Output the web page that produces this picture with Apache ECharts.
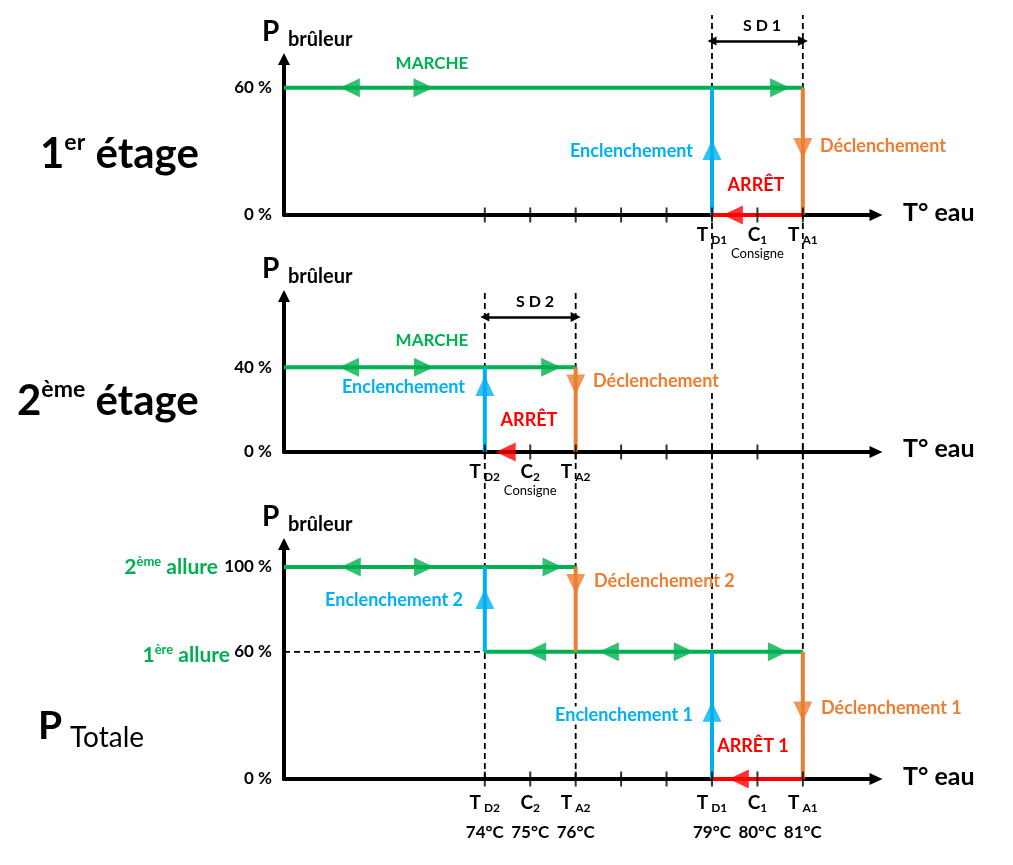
<!DOCTYPE html>
<html><head><meta charset="utf-8">
<script src="https://cdn.jsdelivr.net/npm/echarts@6/dist/echarts.min.js"></script>
<style>html,body{margin:0;padding:0;background:#fff}#c{width:1013px;height:865px}</style>
</head><body><div id="c"></div>
<script>
// ---------------- DATA ----------------
const X_MIN = 69.58, X_MAX = 82.61;            // T° eau axis range (°C)
const tickTemps = [74, 75, 76, 77, 78, 79, 80, 81];
const thresholdTemps = [74, 75, 76, 79, 80, 81];
const thresholdMain  = ['T', 'C', 'T', 'T', 'C', 'T'];
const thresholdSub   = ['D2', '2', 'A2', 'D1', '1', 'A1'];
const tempLabels     = ['74°C', '75°C', '76°C', '79°C', '80°C', '81°C'];
const stage1Temps = [79, 80, 81];
const stage2Temps = [74, 75, 76];
const p1Levels = [0, 60];
const p2Levels = [0, 40];
const p3Levels = [0, 60, 100];

// Panel 1 : 1er étage
const s1Marche = [[X_MIN, 60], [81, 60]];
const s1Encl = [[79, 0], [79, 60]];
const s1Decl = [[81, 60], [81, 0]];
const s1Arret = [[81, 0], [79, 0]];
const s1ArrMarche = [[71.03, 60, 'left'], [72.65, 60, 'right'], [80.50, 60, 'right']];
const s1ArrEncl = [[79, 30.7, 'up']];
const s1ArrDecl = [[81, 31.6, 'down']];
const s1ArrArret = [[79.46, 0, 'left']];
const s1SD = [[79, 82.1], [81, 82.1]];

// Panel 2 : 2ème étage
const s2Marche = [[X_MIN, 40], [76, 40]];
const s2Encl = [[74, 0], [74, 40]];
const s2Decl = [[76, 40], [76, 0]];
const s2ArrMarche = [[71.01, 40, 'left'], [72.66, 40, 'right'], [75.46, 40, 'right']];
const s2ArrEncl = [[74, 31.1, 'up']];
const s2ArrDecl = [[76, 31.8, 'down']];
const s2ArrArret = [[74.46, 0, 'left']];
const s2SD = [[74, 63.7], [76, 63.7]];

// Panel 3 : P Totale
const s3Allure2 = [[X_MIN, 100], [76, 100]];
const s3Allure1 = [[74, 60], [81, 60]];
const s3Ref60 = [[X_MIN, 60], [74, 60]];
const s3Encl2 = [[74, 60], [74, 100]];
const s3Decl2 = [[76, 100], [76, 60]];
const s3Encl1 = [[79, 0], [79, 60]];
const s3Decl1 = [[81, 60], [81, 0]];
const s3Arret1 = [[81, 0], [79, 0]];
const s3ArrAllure2 = [[71.05, 100, 'left'], [72.66, 100, 'right'], [75.49, 100, 'right']];
const s3ArrAllure1 = [[75.13, 60, 'left'], [76.73, 60, 'left'], [78.38, 60, 'right'], [80.45, 60, 'right']];
const s3ArrEncl2 = [[74, 84.9, 'up']];
const s3ArrDecl2 = [[76, 92.0, 'down']];
const s3ArrEncl1 = [[79, 31.7, 'up']];
const s3ArrDecl1 = [[81, 31.8, 'down']];
const s3ArrArret1 = [[79.59, 0, 'left']];

// guide (dashed) lines in overlay scale
const guideTempsLong = [79, 81];
const guideTempsShort = [74, 76];
const guideTopLong = 360.4, guideTopShort = 230.7;

// ---------------- STYLE ----------------
const FF = 'Lato, "Open Sans", sans-serif';
const GREEN = '#00B050', BLUE = '#00B0F0', ORANGE = '#ED7D31', RED = '#FF0000';
const ROT = {up: 0, down: 180, left: 90, right: -90};
const Y_MAX = [73.58, 73.58, 110.85, 360.4];
const grids = [
  {left: 284, width: 592, top: 59, height: 156},
  {left: 284, width: 592, top: 296, height: 156},
  {left: 284, width: 592, top: 544, height: 235},
  {left: 284, width: 592, top: 15, height: 764}
];

const richX = {
  t: {fontSize: 19, fontWeight: 'bold', lineHeight: 22, fontFamily: FF, color: '#000'},
  sT: {fontSize: 12, fontWeight: 'bold', lineHeight: 14, verticalAlign: 'bottom', padding: [0, 0, 0, 3], fontFamily: FF, color: '#000'},
  sC: {fontSize: 12, fontWeight: 'bold', lineHeight: 14, verticalAlign: 'bottom', fontFamily: FF, color: '#000'},
  c: {fontSize: 13, lineHeight: 16, fontFamily: FF, color: '#000'},
  d: {fontSize: 17, fontWeight: 'bold', lineHeight: 38, fontFamily: FF, color: '#000'}
};
function thr(v) {
  const i = thresholdTemps.indexOf(v);
  const m = thresholdMain[i];
  return {i, head: '{t|' + m + '}{' + (m === 'C' ? 'sC' : 'sT') + '|' + thresholdSub[i] + '}'};
}
const fmtStage = v => { const r = thr(v); return thresholdMain[r.i] === 'C' ? r.head + '\n{c|Consigne}' : r.head; };
const fmtTotal = v => { const r = thr(v); return r.head + '\n{d|' + tempLabels[r.i] + '}'; };

function xAxisCfg(i, vals, fmt, margin) {
  const show = i < 3;
  return {
    gridIndex: i, type: 'value', min: X_MIN, max: X_MAX, show: show,
    axisLine: {show: show, onZero: false, lineStyle: {color: '#000', width: 4},
      symbol: ['none', 'triangle'], symbolSize: [12, 13]},
    axisTick: {show: false}, splitLine: {show: false},
    axisLabel: show ? {show: true, customValues: vals, formatter: fmt, rich: richX, margin: margin, color: '#000'} : {show: false}
  };
}
function yAxisCfg(i, levels) {
  const show = i < 3;
  return {
    gridIndex: i, type: 'value', min: 0, max: Y_MAX[i], show: show,
    axisLine: {show: show, onZero: false, lineStyle: {color: '#000', width: 4},
      symbol: ['none', 'triangle'], symbolSize: [12, 12]},
    axisTick: {show: false}, splitLine: {show: false},
    axisLabel: show ? {show: true, customValues: levels, formatter: v => v + ' %',
      color: '#000', fontWeight: 'bold', fontSize: 17, fontFamily: FF, margin: 12} : {show: false}
  };
}

function seg(g, data, color, z, dashed, width) {
  return {type: 'line', xAxisIndex: g, yAxisIndex: g, data: data, symbol: 'none', showSymbol: false,
    clip: false, z: z || 3, silent: true,
    lineStyle: {color: color, width: width || 4, type: dashed ? [6, 4] : 'solid', cap: 'butt'}};
}
function arrows(g, pts, color) {
  return {type: 'scatter', xAxisIndex: g, yAxisIndex: g, symbol: 'triangle', symbolSize: [19, 20],
    clip: false, z: 5, silent: true, itemStyle: {color: color},
    data: pts.map(p => ({value: [p[0], p[1]], symbolRotate: ROT[p[2]]}))};
}
function ticks(g) {
  return {type: 'scatter', xAxisIndex: g, yAxisIndex: g, symbol: 'rect', symbolSize: [2, 15],
    clip: false, z: 6, silent: true, itemStyle: {color: '#000'}, data: tickTemps.map(t => [t, 0])};
}
function sdArrow(g, coords) {
  return {type: 'lines', coordinateSystem: 'cartesian2d', xAxisIndex: g, yAxisIndex: g, clip: false, z: 4,
    silent: true, symbol: ['triangle', 'triangle'], symbolSize: [9, 10],
    lineStyle: {color: '#000', width: 2.5, opacity: 1},
    data: [{coords: coords}]};
}

const series = [];
// guides
guideTempsLong.forEach(t => series.push(seg(3, [[t, 0], [t, guideTopLong]], '#000', 1, true, 1.8)));
guideTempsShort.forEach(t => series.push(seg(3, [[t, 0], [t, guideTopShort]], '#000', 1, true, 1.8)));
// panel 1
series.push(seg(0, s1Marche, GREEN), seg(0, s1Encl, BLUE), seg(0, s1Decl, ORANGE), seg(0, s1Arret, RED));
series.push(arrows(0, s1ArrMarche, GREEN), arrows(0, s1ArrEncl, BLUE), arrows(0, s1ArrDecl, ORANGE), arrows(0, s1ArrArret, RED));
series.push(ticks(0), sdArrow(0, s1SD));
// panel 2
series.push(seg(1, s2Marche, GREEN), seg(1, s2Encl, BLUE), seg(1, s2Decl, ORANGE));
series.push(arrows(1, s2ArrMarche, GREEN), arrows(1, s2ArrEncl, BLUE), arrows(1, s2ArrDecl, ORANGE), arrows(1, s2ArrArret, RED));
series.push(ticks(1), sdArrow(1, s2SD));
// panel 3
series.push(seg(2, s3Ref60, '#000', 1, true, 1.8));
series.push(seg(2, s3Allure2, GREEN), seg(2, s3Allure1, GREEN), seg(2, s3Encl2, BLUE), seg(2, s3Decl2, ORANGE),
  seg(2, s3Encl1, BLUE), seg(2, s3Decl1, ORANGE), seg(2, s3Arret1, RED));
series.push(arrows(2, s3ArrAllure2, GREEN), arrows(2, s3ArrAllure1, GREEN), arrows(2, s3ArrEncl2, BLUE),
  arrows(2, s3ArrDecl2, ORANGE), arrows(2, s3ArrEncl1, BLUE), arrows(2, s3ArrDecl1, ORANGE), arrows(2, s3ArrArret1, RED));
series.push(ticks(2));

// ---------------- TEXT ----------------
const K = 0.36;
function T(x, base, text, size, color, align, weight, bg) {
  const st = {text: text, fontSize: size, fontWeight: weight || 'bold', fontFamily: FF, fill: color || '#000',
    textAlign: align || 'left', textVerticalAlign: 'middle'};
  if (bg) { st.backgroundColor = '#fff'; st.padding = [0, 2]; }
  return {type: 'text', x: x, y: base - K * size, z: 100, silent: true, style: st};
}
function R(x, base, text, size, supSize, supLH, color, align, lh) {
  return {type: 'text', x: x, y: base - K * size, z: 100, silent: true,
    style: {text: text, fontSize: size, fontWeight: 'bold', fontFamily: FF, fill: color, textAlign: align, textVerticalAlign: 'middle',
      rich: {
        n: {fontSize: size, fontWeight: 'bold', fontFamily: FF, fill: color, lineHeight: lh},
        s: {fontSize: supSize, fontWeight: 'bold', fontFamily: FF, fill: color, lineHeight: supLH, verticalAlign: 'top'}
      }}};
}
const graphics = [
  // stage titles
  R(40, 170, '{n|1}{s|er} {n|étage}', 42, 23, 20, '#000', 'left', 48),
  R(17, 417, '{n|2}{s|ème} {n|étage}', 42, 23, 20, '#000', 'left', 48),
  T(38, 740, 'P', 39), T(70, 748, 'Totale', 28, '#000', 'left', 'normal'),
  // P brûleur
  T(262, 42, 'P', 28), T(288, 47, 'brûleur', 20),
  T(262, 279, 'P', 28), T(288, 284, 'brûleur', 20),
  T(262, 527, 'P', 28), T(288, 532, 'brûleur', 20),
  // T° eau
  T(903, 222, 'T° eau', 25), T(903, 458, 'T° eau', 25), T(903, 786, 'T° eau', 25),
  // panel 1 notes
  T(432, 70, 'MARCHE', 17, GREEN, 'center'),
  T(693, 158, 'Enclenchement', 18, BLUE, 'right'),
  T(820, 153, 'Déclenchement', 18, ORANGE, 'left'),
  T(756, 192, 'ARRÊT', 18, RED, 'center'),
  T(762, 32, 'S D 1', 16, '#000', 'center'),
  // panel 2 notes
  T(432, 347, 'MARCHE', 17, GREEN, 'center'),
  T(465, 394, 'Enclenchement', 18, BLUE, 'right'),
  T(591, 388, 'Déclenchement', 18, ORANGE, 'left', 'bold', true),
  T(529, 427, 'ARRÊT', 18, RED, 'center'),
  T(535, 308, 'S D 2', 16, '#000', 'center'),
  // panel 3 notes
  T(463, 607, 'Enclenchement 2', 18, BLUE, 'right'),
  T(594, 588, 'Déclenchement 2', 18, ORANGE, 'left'),
  T(695, 722, 'Enclenchement 1', 18, BLUE, 'right', 'bold', true),
  T(821, 715, 'Déclenchement 1', 18, ORANGE, 'left'),
  T(753, 753, 'ARRÊT 1', 18, RED, 'center'),
  R(218, 575, '{n|2}{s|ème} {n|allure}', 21, 13, 12, GREEN, 'right', 24),
  R(230, 663, '{n|1}{s|ère} {n|allure}', 21, 13, 12, GREEN, 'right', 24)
];

const option = {
  animation: false,
  backgroundColor: '#fff',
  textStyle: {fontFamily: FF},
  grid: grids,
  xAxis: [xAxisCfg(0, stage1Temps, fmtStage, 9), xAxisCfg(1, stage2Temps, fmtStage, 9),
          xAxisCfg(2, thresholdTemps, fmtTotal, 13), xAxisCfg(3, [], null, 0)],
  yAxis: [yAxisCfg(0, p1Levels), yAxisCfg(1, p2Levels), yAxisCfg(2, p3Levels), yAxisCfg(3, [])],
  series: series,
  graphic: graphics
};
const chart = echarts.init(document.getElementById('c'));
chart.setOption(option);
</script></body></html>
